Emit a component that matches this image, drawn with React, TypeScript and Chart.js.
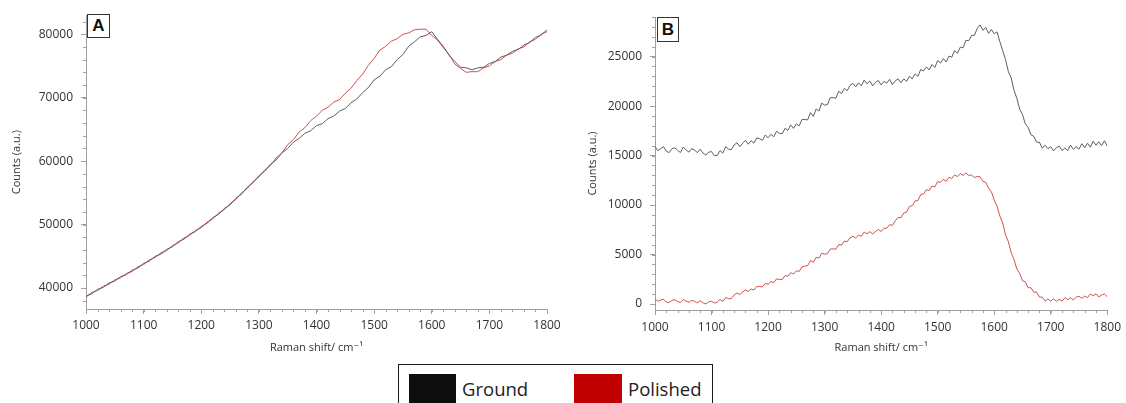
import React, { useEffect, useRef } from "react";
import { Chart, registerables } from "chart.js";

Chart.register(...registerables);

// ---------- data ----------
const shiftStartA = 1000;
const shiftStepA = 10;
const groundA = [
  38700, 39100, 39800, 40100, 40800, 41100, 41800, 42100, 42800, 43150,
  43900, 44250, 45000, 45350, 46100, 46500, 47300, 47700, 48500, 48900,
  49700, 50200, 51100, 51600, 52550, 53100, 54150, 54800, 55900, 56600,
  57700, 58400, 59500, 60200, 61300, 62000, 63000, 63600, 64400, 64800,
  65600, 65900, 66700, 67100, 67900, 68300, 69200, 69800, 70800, 71600,
  72800, 73400, 74400, 74900, 76000, 76800, 78100, 78800, 79600, 79800,
  80400, 79200, 78100, 76700, 75700, 74800, 74700, 74400, 74700, 74800,
  75400, 75700, 76400, 76700, 77300, 77600, 78300, 78700, 79500, 79900,
  80700,
];
const polishedA = [
  38600, 39300, 39600, 40300, 40600, 41300, 41600, 42300, 42600, 43350,
  43700, 44450, 44800, 45550, 45900, 46700, 47100, 47900, 48300, 49100,
  49500, 50400, 50900, 51800, 52350, 53300, 53950, 55000, 55700, 56800,
  57500, 58600, 59300, 60500, 61300, 62600, 63400, 64600, 65300, 66400,
  67100, 68000, 68500, 69300, 69700, 70700, 71500, 72700, 73700, 75100,
  76200, 77500, 78100, 78900, 79300, 80000, 80200, 80700, 80800, 80800,
  79800, 79100, 77900, 76800, 75300, 74600, 74000, 74100, 74100, 74700,
  75000, 75700, 76000, 76700, 77000, 77700, 78000, 78800, 79200, 80000,
  80400,
];

const shiftStartB = 1000;
const shiftStepB = 5;
const groundB = [
  15910, 15500, 15700, 15900, 15450, 15300, 15700, 15780, 15530, 15310,
  15860, 15560, 15350, 15700, 15550, 15300, 15650, 15250, 15050, 15350,
  15400, 15000, 15000, 15500, 15250, 15900, 15650, 15600, 16070, 16300,
  15900, 16250, 16530, 16150, 16520, 16250, 16780, 16700, 16550, 17080,
  16800, 17150, 16900, 17450, 17250, 17200, 17750, 17550, 18100, 17750,
  18200, 18000, 18650, 18650, 18600, 19350, 18950, 19700, 19500, 20300,
  20100, 20150, 20850, 20850, 20800, 21500, 21250, 21800, 21550, 22100,
  22300, 21950, 22350, 22050, 22620, 22240, 22540, 22040, 22390, 22590,
  22140, 22500, 22330, 22700, 22170, 22550, 22750, 22350, 22750, 22500,
  23000, 22750, 23250, 23000, 23700, 23550, 23950, 23650, 24200, 23900,
  24600, 24350, 24800, 24450, 25050, 24950, 25600, 25350, 25950, 25900,
  26650, 26600, 27150, 27150, 27850, 28200, 27650, 27950, 27350, 27750,
  27300, 27500, 26500, 25600, 24700, 23500, 22850, 21600, 20800, 19700,
  19150, 18200, 17850, 17100, 16950, 16350, 16350, 15750, 16050, 15700,
  15900, 15470, 15800, 15950, 15500, 15770, 15490, 16060, 15630, 15900,
  15650, 16200, 15800, 16250, 15850, 16450, 16050, 16400, 16000, 16500,
  15950,
];
const polishedB = [
  520, 280, 410, 490, 200, 150, 380, 430, 260, 150,
  460, 300, 170, 380, 280, 120, 350, 120, 20, 230,
  290, 100, 190, 470, 270, 670, 540, 550, 920, 1120,
  960, 1210, 1430, 1260, 1530, 1410, 1770, 1770, 1730, 2100,
  1990, 2270, 2150, 2550, 2470, 2480, 2870, 2820, 3170, 3030,
  3360, 3300, 3750, 3830, 3880, 4400, 4230, 4720, 4650, 5120,
  5040, 5100, 5550, 5580, 5530, 6020, 5950, 6370, 6300, 6700,
  6850, 6680, 6960, 6850, 7270, 7090, 7320, 7080, 7330, 7530,
  7330, 7650, 7670, 8020, 7950, 8410, 8750, 8730, 9200, 9300,
  9870, 9940, 10420, 10450, 11050, 11120, 11550, 11480, 11920, 11850,
  12370, 12290, 12600, 12400, 12800, 12700, 13050, 12880, 13170, 13000,
  13250, 12990, 13050, 12780, 12900, 12850, 12400, 12300, 11700, 11350,
  10500, 9900, 8900, 8200, 7000, 6300, 5200, 4500, 3550, 3100,
  2350, 2250, 1650, 1650, 1200, 1200, 700, 700, 300, 520,
  280, 530, 280, 480, 300, 650, 440, 650, 410, 700,
  800, 580, 810, 650, 1020, 840, 1040, 730, 910, 1010,
  730,
];

const xTickValues = [1000, 1100, 1200, 1300, 1400, 1500, 1600, 1700, 1800];
const yTickValuesA = [40000, 50000, 60000, 70000, 80000];
const yTickValuesB = [0, 5000, 10000, 15000, 20000, 25000];
const xRange = [1000, 1800];
const yRangeA = [36700, 83000];
const yRangeB = [-600, 29000];
const xMinorStep = 20;
const yMinorStepA = 2000;
const yMinorStepB = 1000;

const seriesNames = ["Ground", "Polished"];
const xTitle = "Raman shift/ cm\u207B\u00B9";
const yTitle = "Counts (a.u.)";

// ---------- styles ----------
const AXIS_COLOR = "#a0a0a0";
const TEXT_COLOR = "#333333";
const GROUND_LINE = "#5e5e5e";
const POLISHED_LINE = "#d05050";
const FONT = "'Open Sans', 'DejaVu Sans', sans-serif";

function toPoints(start: number, step: number, values: number[]) {
  return values.map((v, i) => ({ x: start + i * step, y: v }));
}

const minorTicksPlugin = {
  id: "minorTicks",
  afterDraw(chart: any, _args: any, opts: any) {
    const { ctx } = chart;
    const xs = chart.scales.x;
    const ys = chart.scales.y;
    ctx.save();
    ctx.strokeStyle = AXIS_COLOR;
    ctx.lineWidth = 1;
    ctx.beginPath();
    for (let v = xs.min; v <= xs.max + 1e-6; v += opts.xStep) {
      const px = Math.round(xs.getPixelForValue(v)) + 0.5;
      ctx.moveTo(px, xs.top);
      ctx.lineTo(px, xs.top + 3);
    }
    const first = Math.ceil(ys.min / opts.yStep) * opts.yStep;
    for (let v = first; v <= ys.max + 1e-6; v += opts.yStep) {
      const py = Math.round(ys.getPixelForValue(v)) + 0.5;
      ctx.moveTo(ys.right, py);
      ctx.lineTo(ys.right - 3, py);
    }
    ctx.stroke();
    ctx.restore();
  },
};

type PanelCfg = {
  width: number;
  height: number;
  yWidth: number;
  xHeight: number;
  padTop: number;
  padRight: number;
  yTitlePad: number;
  xTickPad: number;
  xTitlePad: number;
  yRange: number[];
  yTicks: number[];
  yMinor: number;
  ground: { x: number; y: number }[];
  polished: { x: number; y: number }[];
};

function Panel({ cfg, style }: { cfg: PanelCfg; style: React.CSSProperties }) {
  const ref = useRef<HTMLCanvasElement | null>(null);
  useEffect(() => {
    if (!ref.current) return;
    const chart = new Chart(ref.current, {
      type: "line",
      data: {
        datasets: [
          {
            label: seriesNames[0],
            data: cfg.ground,
            borderColor: GROUND_LINE,
            borderWidth: 1,
            pointRadius: 0,
            tension: 0,
            fill: false,
          },
          {
            label: seriesNames[1],
            data: cfg.polished,
            borderColor: POLISHED_LINE,
            borderWidth: 1,
            pointRadius: 0,
            tension: 0,
            fill: false,
          },
        ],
      },
      options: {
        animation: false,
        responsive: false,
        devicePixelRatio: 1,
        layout: {
          autoPadding: false,
          padding: { top: cfg.padTop, right: cfg.padRight, left: 0, bottom: 0 },
        },
        plugins: {
          legend: { display: false },
          tooltip: { enabled: false },
          minorTicks: { xStep: xMinorStep, yStep: cfg.yMinor },
        } as any,
        scales: {
          x: {
            type: "linear",
            min: xRange[0],
            max: xRange[1],
            afterFit: (s: any) => {
              s.height = cfg.xHeight;
            },
            afterBuildTicks: (s: any) => {
              s.ticks = xTickValues.map((v) => ({ value: v }));
            },
            ticks: {
              color: TEXT_COLOR,
              font: { family: FONT, size: 12 },
              padding: cfg.xTickPad,
              maxRotation: 0,
              autoSkip: false,
              callback: (v: any) => String(v),
            },
            grid: { drawOnChartArea: false, drawTicks: true, tickLength: 5, color: AXIS_COLOR },
            border: { display: true, color: AXIS_COLOR, width: 1 },
            title: {
              display: true,
              text: xTitle,
              color: TEXT_COLOR,
              font: { family: FONT, size: 11 },
              padding: { top: 0, bottom: cfg.xTitlePad },
            },
          },
          y: {
            type: "linear",
            min: cfg.yRange[0],
            max: cfg.yRange[1],
            afterFit: (s: any) => {
              s.width = cfg.yWidth;
            },
            afterBuildTicks: (s: any) => {
              s.ticks = cfg.yTicks.map((v) => ({ value: v }));
            },
            ticks: {
              color: TEXT_COLOR,
              font: { family: FONT, size: 12 },
              padding: 8,
              autoSkip: false,
              callback: (v: any) => String(v),
            },
            grid: { drawOnChartArea: false, drawTicks: true, tickLength: 5, color: AXIS_COLOR },
            border: { display: true, color: AXIS_COLOR, width: 1 },
            title: {
              display: true,
              text: yTitle,
              color: TEXT_COLOR,
              font: { family: FONT, size: 11 },
              padding: { top: cfg.yTitlePad, bottom: 0 },
            },
          },
        },
      } as any,
      plugins: [minorTicksPlugin as any],
    });
    return () => chart.destroy();
  }, []);
  return (
    <canvas
      ref={ref}
      width={cfg.width}
      height={cfg.height}
      style={{ position: "absolute", width: cfg.width, height: cfg.height, ...style }}
    />
  );
}

const panelA: PanelCfg = {
  width: 570,
  height: 362,
  yWidth: 86,
  xHeight: 53,
  padTop: 15,
  padRight: 23,
  yTitlePad: 10,
  xTickPad: 4,
  xTitlePad: 8,
  yRange: yRangeA,
  yTicks: yTickValuesA,
  yMinor: yMinorStepA,
  ground: toPoints(shiftStartA, shiftStepA, groundA),
  polished: toPoints(shiftStartA, shiftStepA, polishedA),
};

const panelB: PanelCfg = {
  width: 556,
  height: 362,
  yWidth: 85,
  xHeight: 52,
  padTop: 17,
  padRight: 13,
  yTitlePad: 16,
  xTickPad: 5,
  xTitlePad: 8,
  yRange: yRangeB,
  yTicks: yTickValuesB,
  yMinor: yMinorStepB,
  ground: toPoints(shiftStartB, shiftStepB, groundB),
  polished: toPoints(shiftStartB, shiftStepB, polishedB),
};

const labelBox = (left: number, top: number, w: number, h: number): React.CSSProperties => ({
  position: "absolute",
  left,
  top,
  width: w,
  height: h,
  boxSizing: "border-box",
  border: "1px solid #333",
  background: "#fff",
  fontFamily: "'Liberation Sans', Arial, sans-serif",
  fontWeight: 700,
  fontSize: 17,
  lineHeight: `${h - 2}px`,
  textAlign: "center",
  color: "#111",
});

export default function App() {
  return (
    <div
      style={{
        position: "absolute",
        left: 0,
        top: 0,
        width: 1126,
        height: 403,
        overflow: "hidden",
        background: "#fff",
      }}
    >
      <Panel cfg={panelA} style={{ left: 0, top: 0 }} />
      <Panel cfg={panelB} style={{ left: 570, top: 0 }} />
      <div style={labelBox(87, 14, 23, 24)}>A</div>
      <div style={labelBox(657, 17, 22, 25)}>B</div>
      <div
        style={{
          position: "absolute",
          left: 398,
          top: 364,
          width: 315,
          height: 60,
          boxSizing: "border-box",
          border: "1.5px solid #1a1a1a",
          background: "#fff",
          fontFamily: FONT,
          fontSize: 18.5,
          color: "#222",
        }}
      >
        <div style={{ position: "absolute", left: 10, top: 9, width: 47, height: 30, background: "#0d0d0d" }} />
        <div style={{ position: "absolute", left: 63, top: 10, lineHeight: "28px" }}>{seriesNames[0]}</div>
        <div style={{ position: "absolute", left: 175, top: 9, width: 48, height: 30, background: "#c00000" }} />
        <div style={{ position: "absolute", left: 229, top: 10, lineHeight: "28px" }}>{seriesNames[1]}</div>
      </div>
    </div>
  );
}
